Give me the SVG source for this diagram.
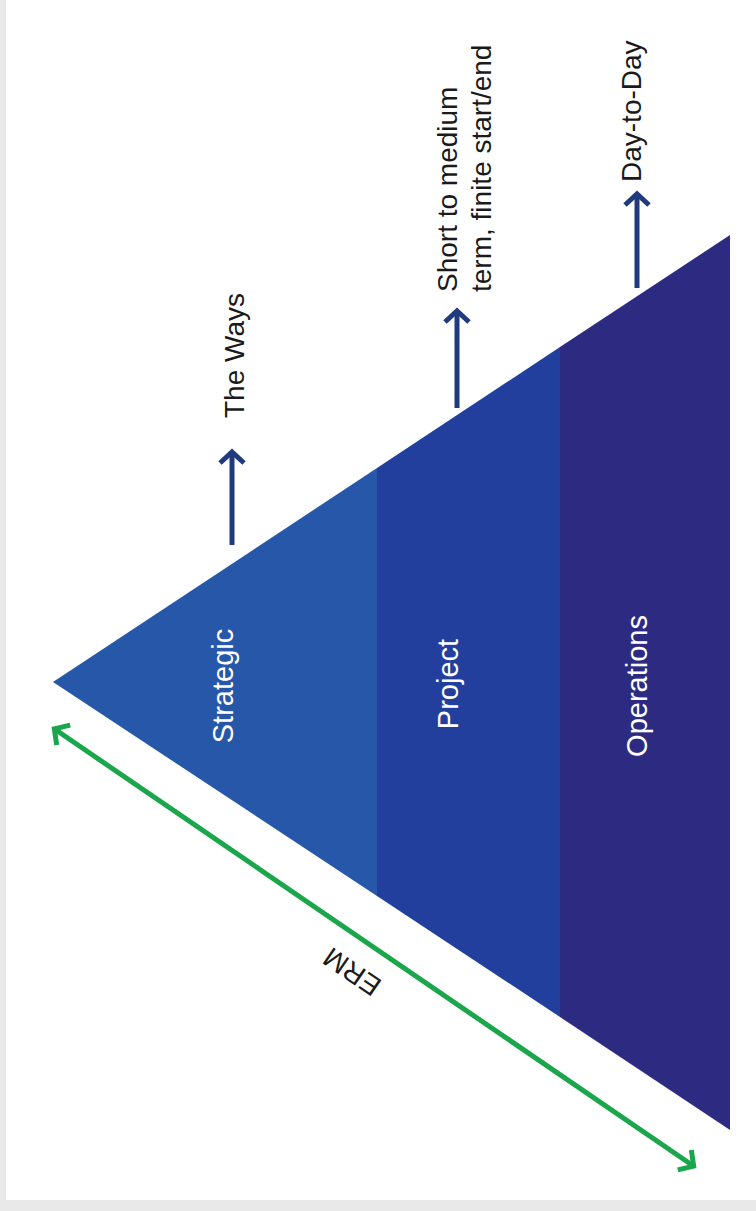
<svg xmlns="http://www.w3.org/2000/svg" width="756" height="1211" viewBox="0 0 756 1211">
  <defs>
    <style>
      .side { font-family: "Liberation Sans", Arial, sans-serif; font-size: 28px; fill: #1a1a1a; }
      .sect { font-family: "Liberation Sans", Arial, sans-serif; font-size: 29px; fill: #ffffff; text-anchor: middle; }
      .barrow { stroke: #1f3b7d; stroke-width: 5; fill: none; marker-end: url(#bhead); }
      .garrow { stroke: #1aa64b; stroke-width: 5; fill: none; marker-start: url(#ghead); marker-end: url(#ghead); }
    </style>
    <marker id="bhead" viewBox="0 0 24 28" refX="11" refY="14" markerWidth="24" markerHeight="28" markerUnits="userSpaceOnUse" orient="auto">
      <path d="M2,2 L13,14 L2,26" fill="none" stroke="#1f3b7d" stroke-width="5" stroke-linejoin="miter"/>
    </marker>
    <marker id="ghead" viewBox="0 0 24 28" refX="11" refY="14" markerWidth="24" markerHeight="28" markerUnits="userSpaceOnUse" orient="auto-start-reverse">
      <path d="M2,2 L13,14 L2,26" fill="none" stroke="#1aa64b" stroke-width="5" stroke-linejoin="miter"/>
    </marker>
  </defs>

  <rect x="0" y="0" width="756" height="1211" fill="#e9e9e9"/>
  <rect x="6" y="0" width="750" height="1200" fill="#ffffff"/>

  <g id="strategic">
    <polygon points="53,682 377,468 377,896" fill="#2757a8"/>
    <text class="sect" transform="translate(233,686) rotate(-90)">Strategic</text>
  </g>
  <g id="project">
    <polygon points="377,468 560,347 560,1017 377,896" fill="#223f9d"/>
    <text class="sect" transform="translate(458,684) rotate(-90)">Project</text>
  </g>
  <g id="operations">
    <polygon points="560,347 730,235 730,1130 560,1017" fill="#2d2a82"/>
    <text class="sect" transform="translate(647,686) rotate(-90)">Operations</text>
  </g>

  <g id="label-ways">
    <text class="side" transform="translate(244,418) rotate(-90)">The Ways</text>
  </g>
  <g id="label-project">
    <text class="side" transform="translate(457,292) rotate(-90)">Short to medium</text>
    <text class="side" transform="translate(491,292) rotate(-90)">term, finite start/end</text>
  </g>
  <g id="label-day">
    <text class="side" transform="translate(641,182) rotate(-90)">Day-to-Day</text>
  </g>
  <g id="label-erm">
    <text class="side" text-anchor="middle" dy="0.35em" transform="translate(352,972) rotate(214.4)">ERM</text>
  </g>

  <g id="connectors">
    <line class="barrow" x1="232" y1="545" x2="232" y2="454"/>
    <line class="barrow" x1="457" y1="408" x2="457" y2="313"/>
    <line class="barrow" x1="637" y1="288" x2="637" y2="196"/>
    <line class="garrow" x1="56" y1="730" x2="692" y2="1165"/>
  </g>
</svg>
